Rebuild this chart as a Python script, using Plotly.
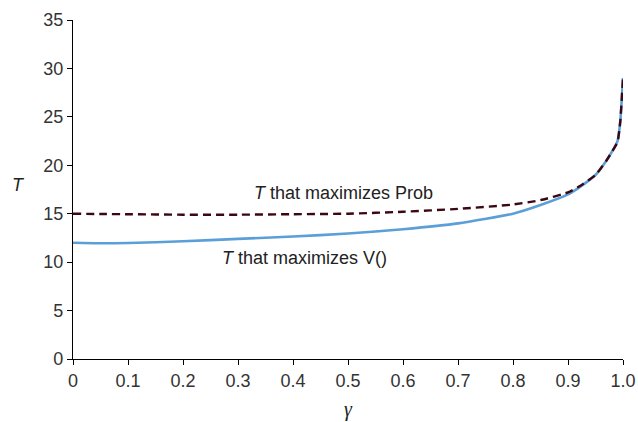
import plotly.graph_objects as go

gamma = [0.0, 0.05, 0.1, 0.2, 0.3, 0.4, 0.5, 0.6, 0.7, 0.8, 0.85, 0.9, 0.92, 0.95, 0.97, 0.98, 0.99, 0.995, 1.0]
t_prob = [15.0, 14.97, 14.95, 14.9, 14.9, 14.95, 15.0, 15.2, 15.5, 15.95, 16.4, 17.2, 17.8, 19.0, 20.5, 21.4, 22.4, 24.5, 29.0]
t_value = [12.0, 11.95, 11.97, 12.15, 12.4, 12.65, 12.95, 13.4, 14.0, 15.0, 15.9, 17.0, 17.7, 19.0, 20.5, 21.4, 22.5, 24.5, 29.0]

x_ticks = [0, 0.1, 0.2, 0.3, 0.4, 0.5, 0.6, 0.7, 0.8, 0.9, 1.0]
x_tick_labels = ["0", "0.1", "0.2", "0.3", "0.4", "0.5", "0.6", "0.7", "0.8", "0.9", "1.0"]
y_ticks = [0, 5, 10, 15, 20, 25, 30, 35]

fig = go.Figure()
fig.add_trace(go.Scatter(x=gamma, y=t_value, mode="lines", line=dict(color="#5b9fd8", width=2.6, shape="spline", smoothing=0.5), hoverinfo="skip"))
fig.add_trace(go.Scatter(x=gamma, y=t_prob, mode="lines", line=dict(color="#3b0712", width=2.4, dash="8px,5px", shape="spline", smoothing=0.5), hoverinfo="skip"))

font = "Liberation Sans, Arial, sans-serif"
fig.add_annotation(x=0.325, y=17.1, text="<i>T</i> that maximizes Prob", showarrow=False, xanchor="left", yanchor="middle",
                   font=dict(family=font, size=18, color="#222"))
fig.add_annotation(x=0.267, y=10.4, text="<i>T</i> that maximizes V()", showarrow=False, xanchor="left", yanchor="middle",
                   font=dict(family=font, size=18, color="#222"))
# axis titles
fig.add_annotation(xref="paper", yref="paper", x=-0.1, y=18 / 35, text="<i>T</i>", showarrow=False,
                   xanchor="center", yanchor="middle", font=dict(family=font, size=18, color="#222"))
fig.add_annotation(xref="paper", yref="paper", x=0.5, y=-0.148, text="<i>γ</i>", showarrow=False,
                   xanchor="center", yanchor="middle", font=dict(family="Liberation Serif, Times New Roman, serif", size=20, color="#222"))

fig.update_layout(
    width=638, height=422,
    margin=dict(l=73, r=15, t=20, b=63, autoexpand=False),
    paper_bgcolor="white", plot_bgcolor="white",
    showlegend=False,
    font=dict(family=font, size=18, color="#333"),
    xaxis=dict(range=[0, 1.0], tickvals=x_ticks, ticktext=x_tick_labels, showgrid=False, zeroline=False,
               showline=True, linecolor="black", linewidth=1.2, ticks="outside", ticklen=5, tickcolor="black",
               tickfont=dict(size=18, color="#333"), automargin=False, ticklabeloverflow="allow"),
    yaxis=dict(range=[0, 35], tickvals=y_ticks, showgrid=False, zeroline=False,
               showline=True, linecolor="black", linewidth=1.2, ticks="outside", ticklen=5, tickcolor="black",
               tickfont=dict(size=18, color="#333"), automargin=False),
)
# remove the default 8px page margin so the figure fills the window exactly
fig.write_html("out.html", config={"displayModeBar": False},
               post_script="document.body.style.margin='0';document.body.style.overflow='hidden';")
